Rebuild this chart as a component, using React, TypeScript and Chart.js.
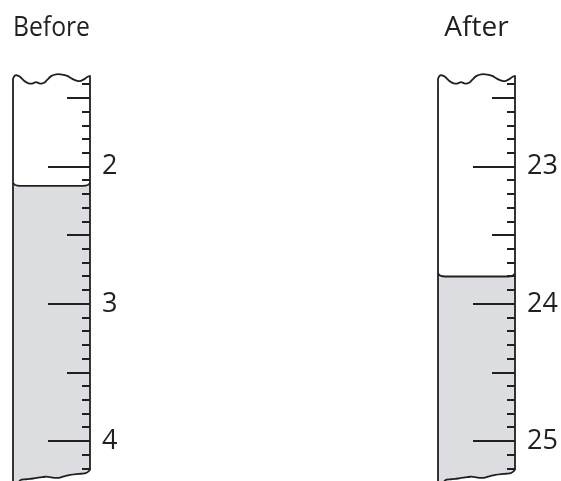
import React, { useEffect, useRef } from "react";
import { Chart, registerables } from "chart.js";

Chart.register(...registerables);

// ---- data ----
const titles = ["Before", "After"];
const beforeLabels = [2, 3, 4];
const afterLabels = [23, 24, 25];
const beforeLevel = 2.14;
const afterLevel = 23.8;
const beforeTicks = [1.4, 4.2]; // first and last graduation (0.1 steps)
const afterTicks = [22.4, 25.2];
const beforeRange = [1.3, 4.29]; // visible scale range
const afterRange = [22.3, 25.29];

// ---- style ----
const INK = "#231f20";
const FILL = "#dcdde0";
const FONT = "'Open Sans', 'Noto Sans', sans-serif";

type Pt = [number, number];

// decorative wavy edges (dx from left wall, dy from reference line)
const TOP_WAVE: Pt[] = [
  [0, 3.5], [1.5, 0.5], [4, 0], [7, 1.5], [11, 5.5], [15, 7.8], [19, 8.3], [23, 6.8], [27, 8.3],
  [31, 7.5], [34, 4.5], [38, 0.8], [43, -1], [49, -0.8], [54, 0.6], [59, 3.5], [64, 5.5],
  [67, 5.7], [71, 3.8], [74, 1.6], [76.7, 0.7],
];
const BOTTOM_WAVE: Pt[] = [
  [5, 14], [8.4, 11], [13, 10.6], [17, 10.3], [22, 9.5], [27, 8.8], [32, 8.1], [35, 8.2], [39, 8.9],
  [43, 9.3], [47, 8.9], [52, 7.4], [57, 6.2], [63, 5.4], [68, 5.1], [72.5, 4.5],
  [75.5, 2.5], [76.7, 0.5],
];

function curve(ctx: CanvasRenderingContext2D, pts: Pt[], move: boolean) {
  if (move) ctx.moveTo(pts[0][0], pts[0][1]);
  else ctx.lineTo(pts[0][0], pts[0][1]);
  for (let i = 0; i < pts.length - 1; i++) {
    const p0 = pts[Math.max(0, i - 1)];
    const p1 = pts[i];
    const p2 = pts[i + 1];
    const p3 = pts[Math.min(pts.length - 1, i + 2)];
    const c1x = p1[0] + (p2[0] - p0[0]) / 6;
    const c1y = p1[1] + (p2[1] - p0[1]) / 6;
    const c2x = p2[0] - (p3[0] - p1[0]) / 6;
    const c2y = p2[1] - (p3[1] - p1[1]) / 6;
    ctx.bezierCurveTo(c1x, c1y, c2x, c2y, p2[0], p2[1]);
  }
}

const burettePlugin = {
  id: "burette",
  afterDatasetsDraw(chart: any, _args: any, opts: any) {
    const { ctx, chartArea } = chart;
    const y = chart.scales.y;
    const L = chartArea.left;
    const R = chartArea.right;
    const H = chart.height;
    const first = y.getPixelForValue(opts.tickStart);
    const last = y.getPixelForValue(opts.tickEnd);
    const topY = first - 9;
    const lvl = y.getPixelForValue(opts.level);
    const scaleX = (R - L) / 76.7;

    ctx.save();
    // mask below bottom wave
    const bottomPts: Pt[] = BOTTOM_WAVE.map(([dx, dy]) => [L + dx * scaleX, last + dy]);
    ctx.fillStyle = "#ffffff";
    ctx.beginPath();
    curve(ctx, bottomPts, true);
    ctx.lineTo(R + 3, last + 0.5);
    ctx.lineTo(R + 3, H + 5);
    ctx.lineTo(L + 3, H + 5);
    ctx.closePath();
    ctx.fill();

    // meniscus
    ctx.fillStyle = FILL;
    ctx.beginPath();
    ctx.moveTo(L, lvl - 3);
    ctx.quadraticCurveTo(L + 1.5, lvl, L + 7, lvl);
    ctx.lineTo(R - 7, lvl);
    ctx.quadraticCurveTo(R - 1.5, lvl, R, lvl - 3);
    ctx.lineTo(R, lvl + 1);
    ctx.lineTo(L, lvl + 1);
    ctx.closePath();
    ctx.fill();
    ctx.strokeStyle = INK;
    ctx.lineWidth = 1.8;
    ctx.beginPath();
    ctx.moveTo(L, lvl - 3);
    ctx.quadraticCurveTo(L + 1.5, lvl, L + 7, lvl);
    ctx.lineTo(R - 7, lvl);
    ctx.quadraticCurveTo(R - 1.5, lvl, R, lvl - 3);
    ctx.stroke();

    // graduations
    ctx.lineWidth = 2;
    const n = Math.round((opts.tickEnd - opts.tickStart) * 10);
    const startIdx = Math.round(opts.tickStart * 10);
    for (let i = 0; i <= n; i++) {
      const idx = startIdx + i;
      const v = idx / 10;
      const py = Math.round(y.getPixelForValue(v));
      const len = idx % 10 === 0 ? 42 : idx % 5 === 0 ? 23 : 8;
      ctx.beginPath();
      ctx.moveTo(R - len, py);
      ctx.lineTo(R, py);
      ctx.stroke();
    }

    // walls + top wave
    ctx.lineWidth = 1.8;
    ctx.lineJoin = "round";
    ctx.lineCap = "round";
    const topPts: Pt[] = TOP_WAVE.map(([dx, dy]) => [L + dx * scaleX, topY + dy]);
    ctx.beginPath();
    ctx.moveTo(L, H + 5);
    curve(ctx, topPts, false);
    ctx.lineTo(R, last + 0.5);
    ctx.stroke();

    // bottom wave
    ctx.beginPath();
    curve(ctx, bottomPts, true);
    ctx.lineTo(R, last + 0.5);
    ctx.stroke();
    ctx.restore();
  },
};

type BProps = {
  title: string;
  labels: number[];
  level: number;
  ticks: number[];
  range: number[];
  axisWidth: number;
};

function Burette({ title, labels, level, ticks, range, axisWidth }: BProps) {
  const ref = useRef<HTMLCanvasElement>(null);
  useEffect(() => {
    if (!ref.current) return;
    const chart = new Chart(ref.current, {
      type: "bar",
      data: {
        labels: [title],
        datasets: [
          {
            data: [[level, range[1]]] as any,
            backgroundColor: FILL,
            borderWidth: 0,
            barPercentage: 1,
            categoryPercentage: 1,
          },
        ],
      },
      options: {
        animation: false,
        responsive: true,
        maintainAspectRatio: false,
        layout: { padding: { left: 13, right: 0, top: 0, bottom: 0 } },
        plugins: {
          legend: { display: false },
          tooltip: { enabled: false },
          title: {
            display: true,
            text: title,
            fullSize: false,
            align: "center",
            color: INK,
            font: { family: FONT, size: 28, weight: "normal", lineHeight: 1.2 },
            padding: { top: 11, bottom: 26 },
          },
          burette: { tickStart: ticks[0], tickEnd: ticks[1], level },
        } as any,
        scales: {
          x: { display: false },
          y: {
            position: "right",
            reverse: true,
            min: range[0],
            max: range[1],
            grid: { display: false, drawTicks: false },
            border: { display: false },
            ticks: {
              padding: 12,
              color: INK,
              font: { family: FONT, size: 27 },
              callback: (v: any) => String(v),
            },
            afterBuildTicks: (s: any) => {
              s.ticks = labels.map((v) => ({ value: v }));
            },
            afterFit: (s: any) => {
              s.width = axisWidth;
              s.paddingTop = 0;
              s.paddingBottom = 0;
            },
          },
        },
      },
      plugins: [burettePlugin],
    });
    return () => chart.destroy();
  }, []);
  return <canvas ref={ref} />;
}

export default function App() {
  return (
    <div style={{ position: "absolute", left: 0, top: 0, width: 561, height: 481, background: "#fff" }}>
      <div style={{ position: "absolute", left: 0, top: 0, width: 140, height: 481 }}>
        <Burette title={titles[0]} labels={beforeLabels} level={beforeLevel} ticks={beforeTicks} range={beforeRange} axisWidth={50} />
      </div>
      <div style={{ position: "absolute", left: 425, top: 0, width: 136, height: 481 }}>
        <Burette title={titles[1]} labels={afterLabels} level={afterLevel} ticks={afterTicks} range={afterRange} axisWidth={46} />
      </div>
    </div>
  );
}
